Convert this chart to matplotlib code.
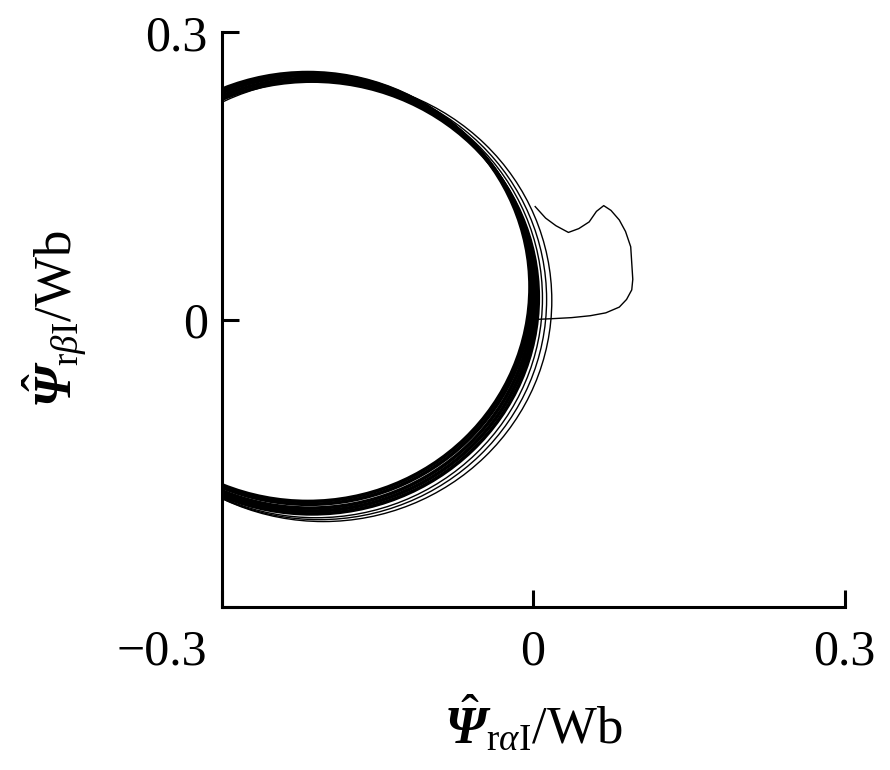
import matplotlib
matplotlib.use("Agg")
import matplotlib.pyplot as plt
import matplotlib.transforms as mtransforms
from matplotlib.patches import Ellipse

# ==============================================================================
# DADOS
# ==============================================================================
# transitório inicial do observador (parte fina à direita)
trans_x = [0.0, 0.020, 0.037, 0.055, 0.070, 0.083, 0.090, 0.095, 0.096, 0.094,
           0.089, 0.083, 0.075, 0.068, 0.061, 0.054, 0.044, 0.034, 0.022, 0.012, 0.002]
trans_y = [0.0, 0.001, 0.002, 0.004, 0.007, 0.013, 0.021, 0.031, 0.042, 0.076,
           0.092, 0.104, 0.114, 0.119, 0.113, 0.102, 0.095, 0.091, 0.098, 0.106, 0.118]

# voltas do fluxo estimado: centro x, centro y, raio x, raio y
lap_cx = [-0.202, -0.206, -0.209, -0.213, -0.214, -0.215, -0.216, -0.217]
lap_cy = [0.020, 0.021, 0.022, 0.023, 0.026, 0.029, 0.032, 0.034]
lap_rx = [0.220, 0.219, 0.218, 0.218, 0.217, 0.216, 0.215, 0.214]
lap_ry = [0.231, 0.230, 0.229, 0.226, 0.226, 0.226, 0.225, 0.224]
lap_lw = [1.0, 1.0, 1.0, 2.6, 2.6, 2.6, 2.6, 2.6]

x_ticks = [-0.3, 0, 0.3]
y_ticks = [-0.3, 0, 0.3]
x_ticklabels = ["\u22120.3", "0", "0.3"]
y_ticklabels = ["", "0", "0.3"]

# ==============================================================================
# ESTILO
# ==============================================================================
plt.rcParams["font.family"] = ["Liberation Serif", "DejaVu Serif"]
plt.rcParams["mathtext.fontset"] = "custom"
plt.rcParams["mathtext.rm"] = "Liberation Serif"
plt.rcParams["mathtext.it"] = "Liberation Serif:italic"
plt.rcParams["mathtext.bf"] = "Liberation Serif:bold"
plt.rcParams["mathtext.bfit"] = "Liberation Serif:italic:bold"

fig = plt.figure(figsize=(8.9, 7.7), dpi=100)
ax = fig.add_axes([0.249, 0.212, 0.700, 0.746])

ax.plot(trans_x, trans_y, color="black", lw=1.0)
for cx, cy, rx, ry, lw in zip(lap_cx, lap_cy, lap_rx, lap_ry, lap_lw):
    ax.add_patch(Ellipse((cx, cy), 2 * rx, 2 * ry, fill=False,
                         edgecolor="black", lw=lw))

ax.set_xlim(-0.3, 0.3)
ax.set_ylim(-0.3, 0.3)
ax.set_xticks(x_ticks)
ax.set_xticklabels(x_ticklabels)
ax.set_yticks(y_ticks)
ax.set_yticklabels(y_ticklabels)

for s in ["top", "right"]:
    ax.spines[s].set_visible(False)
for s in ["left", "bottom"]:
    ax.spines[s].set_linewidth(2.2)

ax.tick_params(direction="in", length=12, width=2.2, labelsize=36)
ax.tick_params(axis="x", pad=16)
ax.tick_params(axis="y", pad=10)

# o rótulo -0.3 fica à esquerda do eixo
lbl = ax.get_xticklabels()[0]
lbl.set_ha("right")
lbl.set_transform(lbl.get_transform() +
                  mtransforms.ScaledTranslation(-14 / 100, 0, fig.dpi_scale_trans))

ax.set_xlabel(r"$\hat{\mathbfit{\Psi}}_{\mathrm{r}\alpha\mathrm{I}}/\mathrm{Wb}$",
              fontsize=38, labelpad=14)
ax.set_ylabel(r"$\hat{\mathbfit{\Psi}}_{\mathrm{r}\beta\mathrm{I}}/\mathrm{Wb}$",
              fontsize=38, labelpad=40)

fig.savefig("out.png", dpi=100)
